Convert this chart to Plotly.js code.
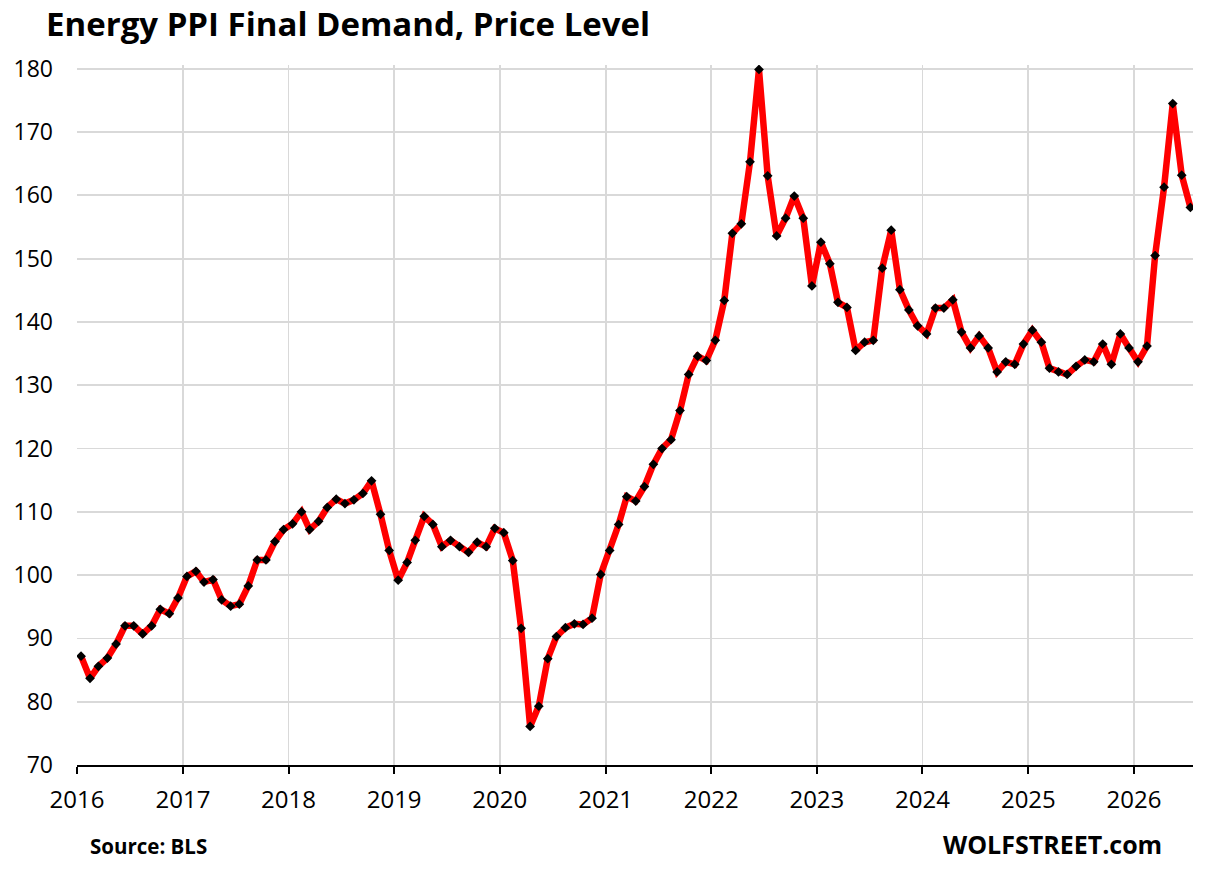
<!DOCTYPE html>
<html>
<head>
<meta charset="utf-8">
<script src="https://cdn.plot.ly/plotly-3.0.1.min.js"></script>
<style>html,body{margin:0;padding:0;background:#fff;}#chart{width:1217px;height:869px;}</style>
</head>
<body>
<div id="chart"></div>
<script>
// Monthly values, Jan..Dec (2026: Jan..Jul)
const v2016 = [87.2, 83.7, 85.6, 86.9, 89.1, 92.0, 92.0, 90.7, 92.0, 94.6, 93.9, 96.4];
const v2017 = [99.8, 100.6, 98.9, 99.3, 96.1, 95.1, 95.4, 98.3, 102.4, 102.4, 105.3, 107.2];
const v2018 = [108.1, 110.0, 107.2, 108.5, 110.7, 112.0, 111.3, 111.9, 112.9, 114.9, 109.6, 103.9];
const v2019 = [99.2, 102.0, 105.5, 109.3, 108.0, 104.5, 105.5, 104.5, 103.6, 105.2, 104.5, 107.4];
const v2020 = [106.7, 102.3, 91.6, 76.1, 79.3, 86.8, 90.3, 91.7, 92.3, 92.2, 93.2, 100.1];
const v2021 = [103.9, 108.0, 112.4, 111.7, 114.0, 117.5, 120.0, 121.4, 126.0, 131.7, 134.6, 133.9];
const v2022 = [137.1, 143.4, 154.0, 155.5, 165.3, 179.9, 163.1, 153.6, 156.4, 159.9, 156.4, 145.7];
const v2023 = [152.6, 149.2, 143.1, 142.3, 135.5, 136.8, 137.1, 148.5, 154.5, 145.1, 141.9, 139.4];
const v2024 = [138.1, 142.2, 142.2, 143.5, 138.4, 135.9, 137.8, 135.9, 132.1, 133.7, 133.3, 136.5];
const v2025 = [138.7, 136.8, 132.7, 132.1, 131.7, 133.0, 134.0, 133.7, 136.5, 133.3, 138.1, 135.9];
const v2026 = [133.7, 136.2, 150.5, 161.3, 174.5, 163.2, 158.1];

const years = [2016, 2017, 2018, 2019, 2020, 2021, 2022, 2023, 2024, 2025, 2026];
const yearValues = [v2016, v2017, v2018, v2019, v2020, v2021, v2022, v2023, v2024, v2025, v2026];
const yearTickLabels = ['2016','2017','2018','2019','2020','2021','2022','2023','2024','2025','2026'];
const yTickVals = [70, 80, 90, 100, 110, 120, 130, 140, 150, 160, 170, 180];

const dates = [], values = [];
years.forEach((yr, i) => {
  yearValues[i].forEach((val, m) => {
    const mm = String(m + 1).padStart(2, '0');
    dates.push(yr + '-' + mm + '-15');
    values.push(val);
  });
});
const yearTickVals = years.map(y => y + '-01-01');

const trace = {
  x: dates, y: values, type: 'scatter', mode: 'lines+markers',
  line: {color: '#ff0000', width: 6.5},
  marker: {symbol: 'diamond', size: 7.5, color: '#000000'},
  hoverinfo: 'x+y'
};

const FONT = 'Open Sans, Liberation Sans, sans-serif';

const layout = {
  width: 1217, height: 869,
  margin: {l: 77, r: 24, t: 65, b: 104},
  paper_bgcolor: '#fff', plot_bgcolor: '#fff',
  showlegend: false,
  title: {
    text: '<b>Energy PPI Final Demand, Price Level</b>',
    xref: 'container', yref: 'container',
    x: 46/1217, xanchor: 'left', y: 1 - 24/869, yanchor: 'middle',
    font: {family: FONT, size: 33, color: '#000'}
  },
  xaxis: {
    type: 'date',
    range: ['2016-01-01', '2026-07-24'],
    tickmode: 'array', tickvals: yearTickVals, ticktext: yearTickLabels,
    showgrid: true, gridcolor: '#d9d9d9', gridwidth: 1.8,
    showline: true, linecolor: '#000', linewidth: 2,
    ticks: 'outside', ticklen: 7, tickwidth: 2, tickcolor: '#000',
    ticklabelstandoff: 5,
    tickfont: {family: FONT, size: 24, color: '#000'}, zeroline: false, fixedrange: true
  },
  yaxis: {
    range: [70, 180.6],
    tickmode: 'array', tickvals: yTickVals,
    showgrid: true, gridcolor: '#d9d9d9', gridwidth: 1.8,
    showline: false, zeroline: false, ticks: '',
    ticklabelstandoff: 23,
    tickfont: {family: FONT, size: 23, color: '#000'}, fixedrange: true
  },
  annotations: [
    {text: '<b>Source: BLS</b>', xref: 'paper', yref: 'paper', x: (88-77)/1116, y: (765-846)/700,
     xanchor: 'left', yanchor: 'middle', showarrow: false,
     font: {family: FONT, size: 20.5, color: '#000'}},
    {text: '<b>WOLFSTREET.com</b>', xref: 'paper', yref: 'paper', x: (1164-77)/1116, y: (765-844)/700,
     xanchor: 'right', yanchor: 'middle', showarrow: false,
     font: {family: FONT, size: 25, color: '#000'}}
  ]
};

Plotly.newPlot('chart', [trace], layout, {displayModeBar: false, staticPlot: true});
</script>
</body>
</html>
